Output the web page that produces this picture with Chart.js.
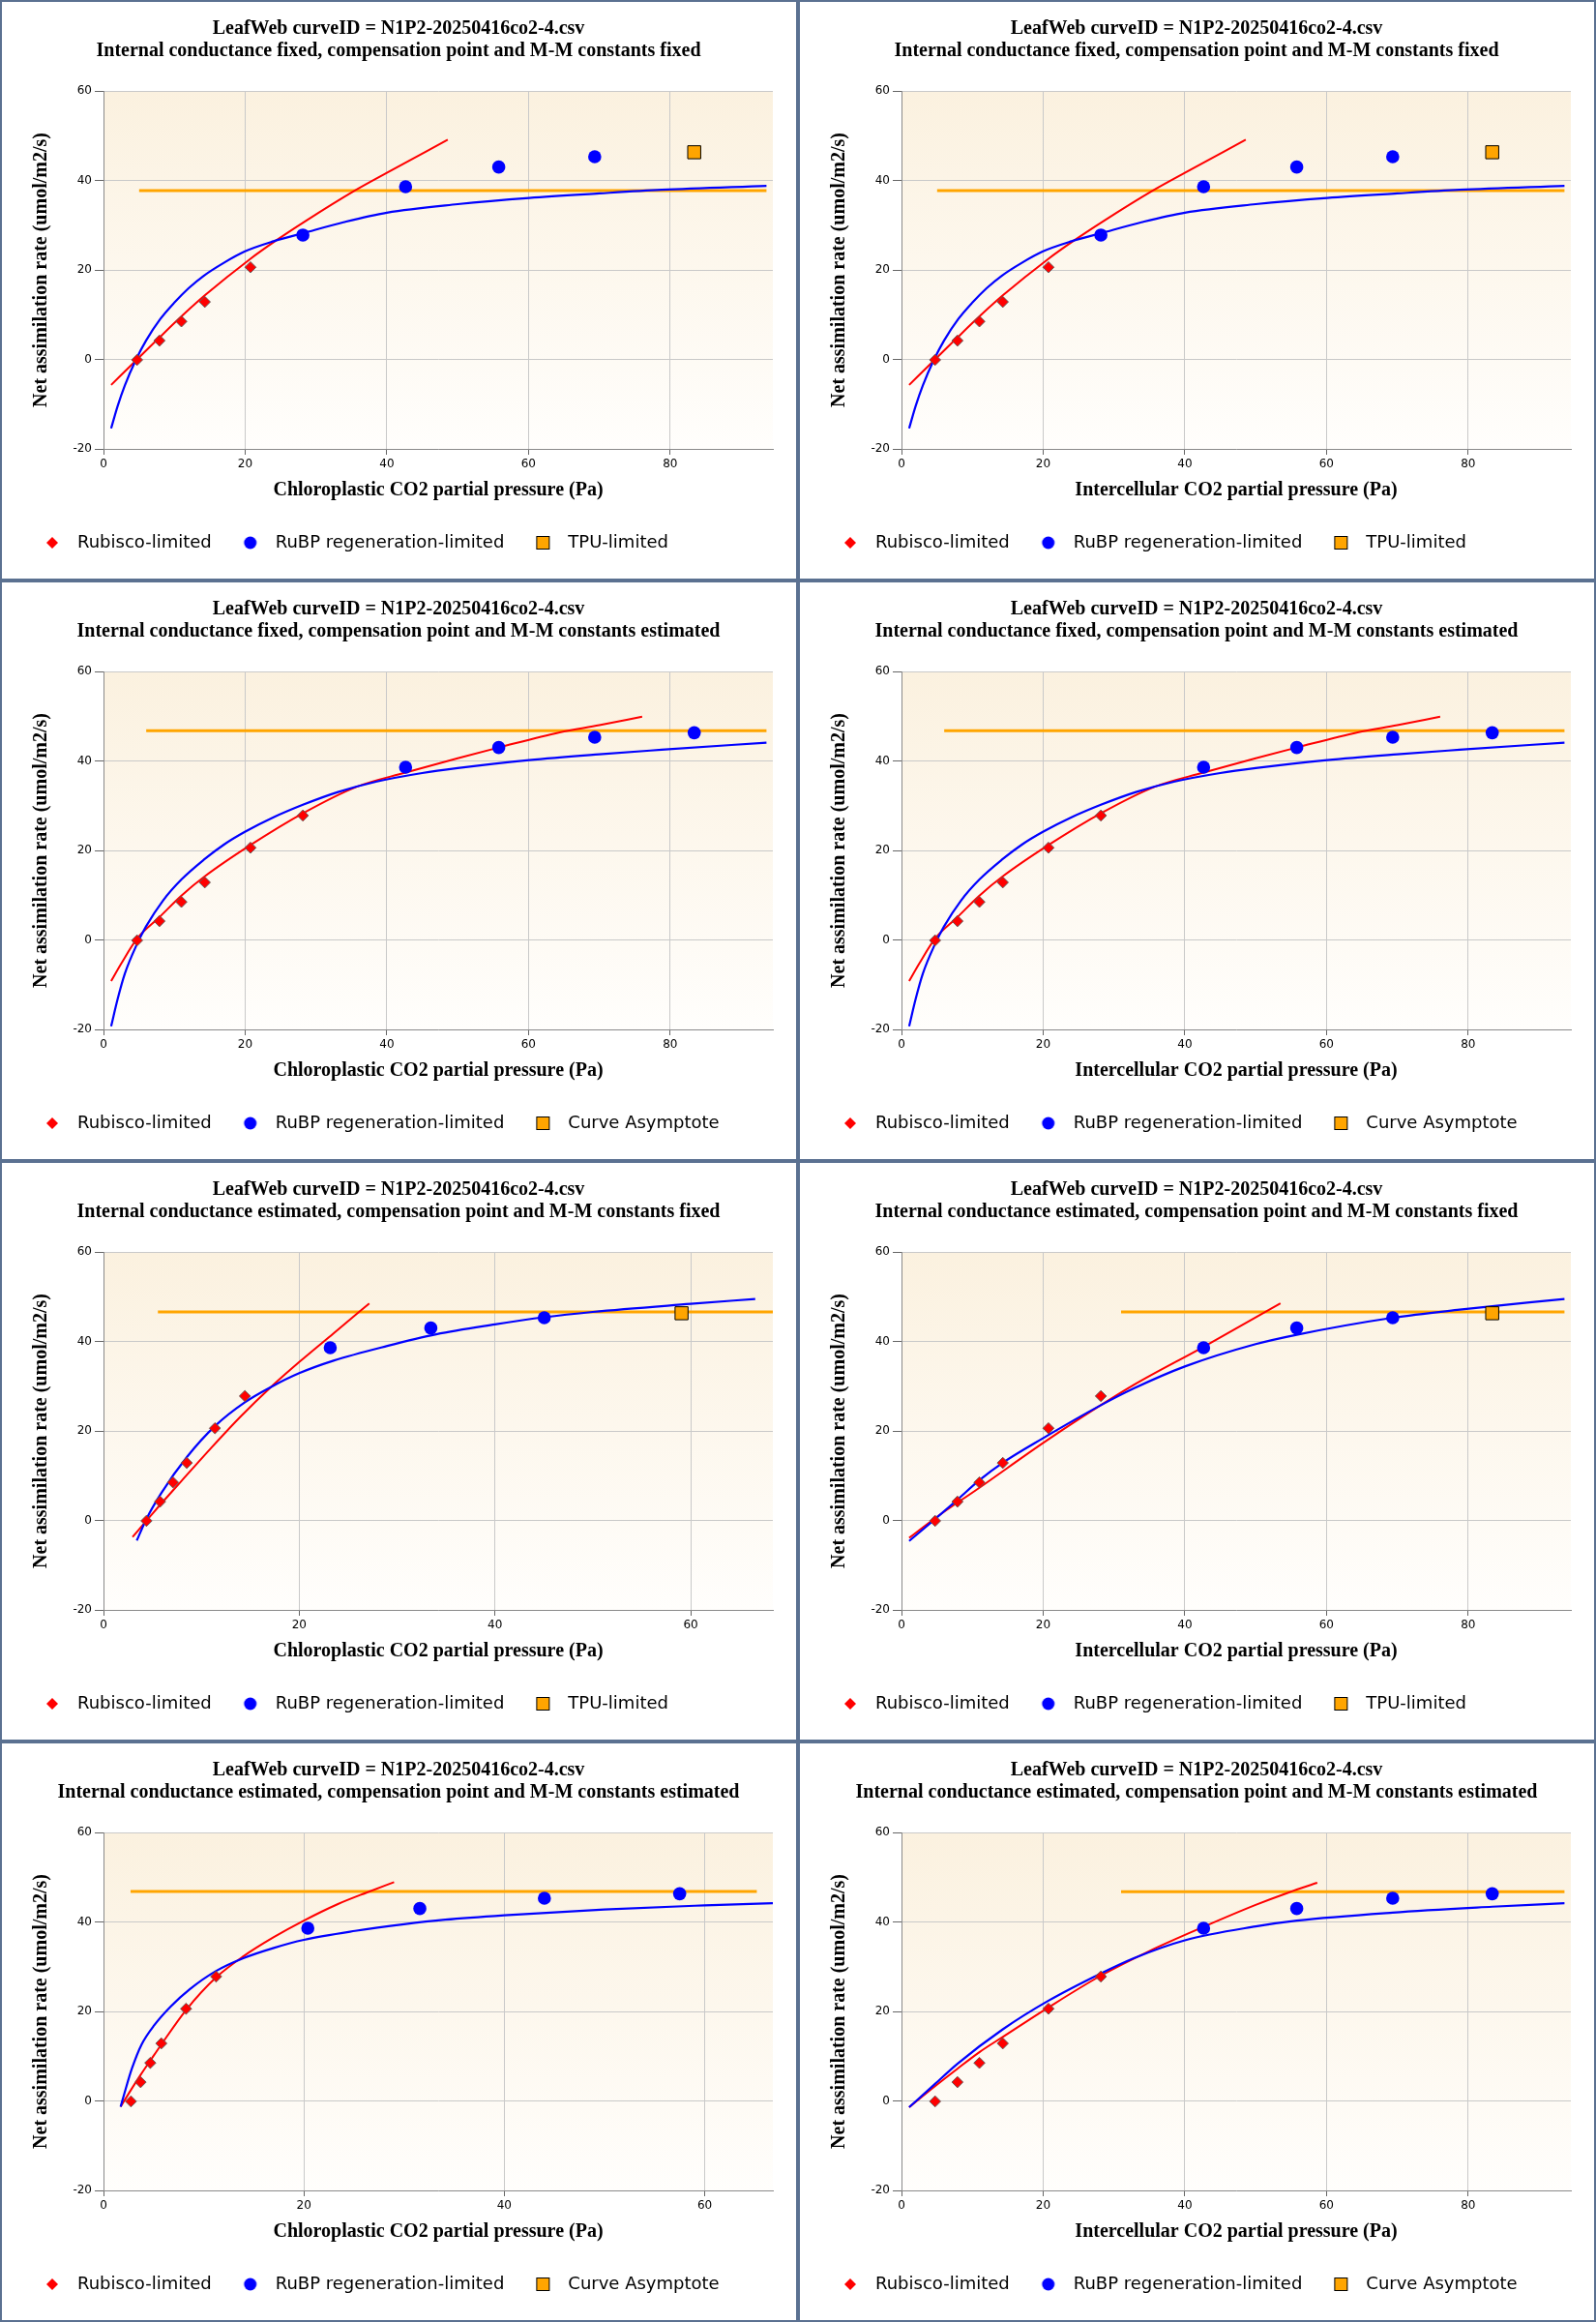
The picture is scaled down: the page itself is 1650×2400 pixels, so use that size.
<!DOCTYPE html>
<html>
<head>
<meta charset="utf-8">
<title>LeafWeb A/C fits</title>
<script src="https://cdn.jsdelivr.net/npm/chart.js@4.4.1/dist/chart.umd.min.js"></script>
<style>
  html, body { margin: 0; padding: 0; background: #fff; }
  #grid { display: grid; grid-template-columns: 825px 825px; grid-template-rows: repeat(4, 600px); width: 1650px; }
  .panel { box-sizing: border-box; border: 2px solid #5b7191; background: #fff; }
  .panel canvas { display: block; }
</style>
</head>
<body>
<div id="grid">
  <div class="panel"><canvas id="c1" width="821" height="596"></canvas></div>
  <div class="panel"><canvas id="c2" width="821" height="596"></canvas></div>
  <div class="panel"><canvas id="c3" width="821" height="596"></canvas></div>
  <div class="panel"><canvas id="c4" width="821" height="596"></canvas></div>
  <div class="panel"><canvas id="c5" width="821" height="596"></canvas></div>
  <div class="panel"><canvas id="c6" width="821" height="596"></canvas></div>
  <div class="panel"><canvas id="c7" width="821" height="596"></canvas></div>
  <div class="panel"><canvas id="c8" width="821" height="596"></canvas></div>
</div>
<script>
// measured points (same A for every panel)
const assimilation = [-0.1, 4.2, 8.5, 12.85, 20.6, 27.8, 38.6, 43.0, 45.3, 46.3];
const ciPressure = [4.74, 7.9, 11.0, 14.3, 20.75, 28.15, 42.65, 55.8, 69.35, 83.4];
const ccGmEstMmFixed = [4.39, 5.78, 7.1, 8.51, 11.39, 14.45, 23.17, 33.45, 45.04, 59.07];
const ccGmEstMmEst = [2.74, 3.7, 4.67, 5.77, 8.24, 11.24, 20.39, 31.57, 44.0, 57.5];

// limitation of each point: R = Rubisco, J = RuBP regeneration, T = TPU
const fixFixLimits = ['R', 'R', 'R', 'R', 'R', 'J', 'J', 'J', 'J', 'T'];
const fixEstLimits = ['R', 'R', 'R', 'R', 'R', 'R', 'J', 'J', 'J', 'J'];
const estFixLimits = ['R', 'R', 'R', 'R', 'R', 'R', 'J', 'J', 'J', 'T'];
const estEstLimits = ['R', 'R', 'R', 'R', 'R', 'R', 'J', 'J', 'J', 'J'];

// fitted curves, gm fixed / constants fixed
const fixFixRubiscoX = [1.08, 4.74, 7.9, 11.0, 14.3, 20.75, 24.2, 28.5, 35.5, 40.0, 48.6];
const fixFixRubiscoY = [-5.7, 0.0, 4.9, 9.6, 14.3, 22.5, 26.4, 30.9, 37.75, 41.7, 49.1];
const fixFixRubpX = [1.08, 2.0, 3.0, 4.6, 6.0, 8.0, 10.0, 12.0, 14.15, 17.0, 19.9, 24.0, 28.15, 34.0, 40.0, 50.0, 60.1, 70.0, 78.8, 93.6];
const fixFixRubpY = [-15.4, -10.4, -5.85, 0.0, 4.2, 9.0, 12.7, 15.9, 18.7, 21.6, 24.1, 26.4, 28.2, 30.7, 32.8, 34.7, 36.1, 37.1, 37.9, 38.8];
const fixFixTpuX = [5.03, 93.6];
const fixFixTpuY = [37.75, 37.75];

// gm fixed / constants estimated
const fixEstRubiscoX = [1.08, 2.5, 4.74, 7.9, 11.0, 14.3, 20.75, 28.15, 35.7, 42.65, 50.0, 55.8, 64.4, 70.0, 76.05];
const fixEstRubiscoY = [-9.2, -5.3, 0.3, 5.1, 9.9, 14.2, 21.2, 28.3, 34.2, 37.4, 40.6, 43.0, 46.4, 48.0, 49.9];
const fixEstRubpX = [1.08, 2.0, 3.0, 4.74, 6.0, 8.4, 11.0, 14.15, 17.0, 19.9, 24.0, 28.15, 33.0, 38.6, 45.0, 50.0, 60.1, 70.0, 78.8, 93.6];
const fixEstRubpY = [-19.3, -13.2, -7.6, -0.9, 3.0, 8.8, 13.5, 17.9, 21.3, 24.1, 27.4, 30.2, 33.0, 35.4, 37.3, 38.4, 40.2, 41.5, 42.5, 44.1];
const fixEstAsymX = [6.03, 93.6];
const fixEstAsymY = [46.76, 46.76];

// gm estimated / constants fixed, chloroplastic
const estFixCcRubiscoX = [2.97, 5.0, 8.0, 11.0, 14.0, 17.1, 20.0, 23.5, 27.16];
const estFixCcRubiscoY = [-3.7, 1.5, 8.9, 16.2, 23.2, 29.8, 35.4, 41.8, 48.5];
const estFixCcRubpX = [3.4, 4.4, 5.9, 8.5, 11.4, 14.45, 17.1, 20.0, 23.5, 29.0, 34.0, 40.0, 45.0, 50.0, 60.0, 66.6];
const estFixCcRubpY = [-4.5, 0.4, 6.1, 14.1, 21.1, 26.4, 29.8, 32.9, 35.7, 39.0, 41.6, 43.8, 45.4, 46.6, 48.4, 49.5];
const estFixCcTpuX = [5.56, 68.4];
const estFixCcTpuY = [46.6, 46.6];

// gm estimated / constants fixed, intercellular
const estFixCiRubiscoX = [1.08, 4.74, 11.0, 19.9, 25.6, 32.8, 42.65, 53.5];
const estFixCiRubiscoY = [-3.9, 0.5, 7.3, 17.2, 23.2, 30.3, 38.8, 48.5];
const estFixCiRubpX = [1.08, 4.74, 7.9, 11.0, 14.3, 19.9, 28.15, 32.8, 40.0, 50.0, 55.8, 69.35, 78.8, 93.6];
const estFixCiRubpY = [-4.6, 0.3, 4.65, 9.0, 12.9, 18.3, 25.75, 29.5, 34.4, 39.4, 41.5, 45.3, 47.1, 49.5];
const estFixCiTpuX = [31.0, 93.6];
const estFixCiTpuY = [46.6, 46.6];

// gm estimated / constants estimated, chloroplastic
const estEstCcRubiscoX = [1.71, 2.5, 3.7, 4.67, 5.77, 8.24, 11.24, 13.95, 17.0, 20.0, 23.4, 26.3, 29.0];
const estEstCcRubiscoY = [-1.3, 1.6, 5.8, 9.0, 12.6, 20.3, 27.6, 32.3, 36.6, 40.3, 44.0, 46.6, 48.9];
const estEstCcRubpX = [1.71, 2.19, 2.83, 3.8, 5.09, 6.7, 8.63, 11.2, 13.95, 17.0, 20.0, 25.1, 30.0, 34.1, 40.0, 50.0, 60.0, 66.8];
const estEstCcRubpY = [-1.3, 2.5, 7.2, 12.6, 17.0, 21.1, 25.0, 29.0, 31.9, 34.2, 36.0, 38.0, 39.5, 40.5, 41.5, 42.8, 43.7, 44.2];
const estEstCcAsymX = [2.7, 65.2];
const estEstCcAsymY = [46.8, 46.8];

// gm estimated / constants estimated, intercellular
const estEstCiRubiscoX = [1.08, 4.74, 7.9, 11.0, 14.3, 20.75, 28.15, 35.0, 42.65, 50.0, 54.7, 58.7];
const estEstCiRubiscoY = [-1.4, 3.3, 7.2, 10.9, 14.3, 20.9, 28.0, 33.5, 38.9, 43.8, 46.6, 48.75];
const estEstCiRubpX = [1.08, 4.74, 7.9, 14.3, 20.75, 28.15, 32.8, 40.0, 50.0, 55.8, 69.35, 83.4, 93.6];
const estEstCiRubpY = [-1.4, 3.8, 8.3, 16.0, 22.4, 28.5, 31.9, 35.9, 39.0, 40.3, 42.1, 43.4, 44.2];
const estEstCiAsymX = [31.0, 93.6];
const estEstCiAsymY = [46.76, 46.76];

const yTicks = [-20, 0, 20, 40, 60];
const xMaxWide = 94.5;
const xMaxEstFixCc = 68.4;
const xMaxEstEstCc = 66.8;

const curveTitle = 'LeafWeb curveID = N1P2-20250416co2-4.csv';
const subFixFix = 'Internal conductance fixed, compensation point and M-M constants fixed';
const subFixEst = 'Internal conductance fixed, compensation point and M-M constants estimated';
const subEstFix = 'Internal conductance estimated, compensation point and M-M constants fixed';
const subEstEst = 'Internal conductance estimated, compensation point and M-M constants estimated';
const xTitleCc = 'Chloroplastic CO2 partial pressure (Pa)';
const xTitleCi = 'Intercellular CO2 partial pressure (Pa)';

Chart.defaults.font.family = "'DejaVu Sans', sans-serif";
Chart.defaults.font.size = 12;
Chart.defaults.color = '#000';

const serifBold = { family: "'Liberation Serif', serif", size: 20, weight: 'bold' };

function pairs(xs, ys) {
  return xs.map((x, i) => ({ x: x, y: ys[i] }));
}

function pick(xs, limits, kind) {
  const out = [];
  xs.forEach((x, i) => {
    if (limits[i] === kind) out.push({ x: x, y: assimilation[i] });
  });
  return out;
}

// small images for the legend markers
function marker(kind) {
  const c = document.createElement('canvas');
  c.width = 16;
  c.height = 16;
  const g = c.getContext('2d');
  if (kind === 'diamond') {
    g.fillStyle = '#ff0000';
    g.beginPath();
    g.moveTo(8, 2); g.lineTo(14, 8); g.lineTo(8, 14); g.lineTo(2, 8);
    g.closePath();
    g.fill();
  } else if (kind === 'circle') {
    g.fillStyle = '#0000ff';
    g.beginPath();
    g.arc(8, 8, 6.5, 0, Math.PI * 2);
    g.fill();
  } else {
    g.fillStyle = '#ffa500';
    g.fillRect(1.5, 1.5, 13, 13);
    g.strokeStyle = '#000';
    g.lineWidth = 1;
    g.strokeRect(1.5, 1.5, 13, 13);
  }
  return c;
}
const markers = { diamond: marker('diamond'), circle: marker('circle'), square: marker('square') };

const plotBackground = {
  id: 'plotBackground',
  beforeDraw(chart) {
    const { ctx, chartArea: a } = chart;
    const grad = ctx.createLinearGradient(0, a.top, 0, a.bottom);
    grad.addColorStop(0, '#fbf1df');
    grad.addColorStop(1, '#fffefc');
    ctx.save();
    ctx.fillStyle = grad;
    ctx.fillRect(a.left, a.top, a.width, a.height);
    ctx.restore();
  }
};

function lineSet(data, color, width) {
  return {
    data: data,
    showLine: true,
    borderColor: color,
    backgroundColor: color,
    borderWidth: width,
    pointRadius: 0,
    cubicInterpolationMode: 'monotone',
    fill: false
  };
}

function makePanel(id, p) {
  const datasets = [
    {
      data: pick(p.xs, p.limits, 'R'),
      pointStyle: 'rectRot', pointRadius: 5.8,
      backgroundColor: '#ff0000', borderColor: 'rgba(90,90,90,0.9)', borderWidth: 1
    },
    {
      data: pick(p.xs, p.limits, 'J'),
      pointStyle: 'circle', pointRadius: 6.8,
      backgroundColor: '#0000ff', borderColor: '#0000ff', borderWidth: 0
    },
    {
      data: pick(p.xs, p.limits, 'T'),
      pointStyle: 'rect', pointRadius: 9.5,
      backgroundColor: '#ffa500', borderColor: '#000', borderWidth: 1
    },
    lineSet(pairs(p.rubpX, p.rubpY), '#0000ff', 2.2),
    lineSet(pairs(p.rubiscoX, p.rubiscoY), '#ff0000', 2),
    lineSet(pairs(p.thirdX, p.thirdY), '#ffa500', 3)
  ];

  new Chart(document.getElementById(id), {
    type: 'scatter',
    data: { datasets: datasets },
    plugins: [plotBackground],
    options: {
      responsive: false,
      animation: false,
      events: [],
      layout: { padding: { left: 12, right: 13, top: 0, bottom: 18 } },
      scales: {
        x: {
          type: 'linear',
          min: 0,
          max: p.xMax,
          ticks: { stepSize: 20, includeBounds: false, padding: 3, maxRotation: 0, color: '#000' },
          grid: { color: '#c9c9c9', tickColor: '#666', tickLength: 6 },
          border: { color: '#8a8a8a' },
          title: { display: true, text: p.xTitle, font: serifBold, color: '#000', padding: { top: 0, bottom: 10 } },
          afterFit: s => { s.height = 65; }
        },
        y: {
          type: 'linear',
          min: yTicks[0],
          max: yTicks[yTicks.length - 1],
          afterBuildTicks: s => { s.ticks = yTicks.map(v => ({ value: v })); },
          ticks: { padding: 3, color: '#000' },
          grid: { color: '#c9c9c9', tickColor: '#666', tickLength: 9 },
          border: { color: '#8a8a8a' },
          title: { display: true, text: 'Net assimilation rate (umol/m2/s)', font: serifBold, color: '#000', padding: { top: 17, bottom: 0 } },
          afterFit: s => { s.width = 93; }
        },
        spacer: {
          type: 'linear',
          position: 'right',
          display: true,
          grid: { display: false },
          ticks: { display: false },
          border: { display: false },
          afterFit: s => { s.width = 11; }
        }
      },
      plugins: {
        tooltip: { enabled: false },
        title: {
          display: true,
          text: [curveTitle, p.subtitle],
          font: { family: "'Liberation Serif', serif", size: 20, weight: 'bold', lineHeight: 1.15 },
          color: '#000',
          padding: { top: 16.5, bottom: 29.5 }
        },
        legend: {
          position: 'bottom',
          align: 'start',
          labels: {
            usePointStyle: true,
            pointStyleWidth: 34,
            padding: 23,
            color: '#000',
            font: { size: 18 },
            generateLabels: () => [
              { text: 'Rubisco-limited', pointStyle: markers.diamond, fillStyle: '#ff0000', strokeStyle: '#ff0000', lineWidth: 0, hidden: false, datasetIndex: 0 },
              { text: 'RuBP regeneration-limited', pointStyle: markers.circle, fillStyle: '#0000ff', strokeStyle: '#0000ff', lineWidth: 0, hidden: false, datasetIndex: 1 },
              { text: p.thirdLabel, pointStyle: markers.square, fillStyle: '#ffa500', strokeStyle: '#000', lineWidth: 1, hidden: false, datasetIndex: 2 }
            ]
          }
        }
      }
    }
  });
}

const fixFixCc = { xs: ciPressure, limits: fixFixLimits, rubiscoX: fixFixRubiscoX, rubiscoY: fixFixRubiscoY, rubpX: fixFixRubpX, rubpY: fixFixRubpY, thirdX: fixFixTpuX, thirdY: fixFixTpuY, thirdLabel: 'TPU-limited', xMax: xMaxWide, subtitle: subFixFix, xTitle: xTitleCc };
makePanel('c1', fixFixCc);
makePanel('c2', Object.assign({}, fixFixCc, { xTitle: xTitleCi }));

const fixEstCc = { xs: ciPressure, limits: fixEstLimits, rubiscoX: fixEstRubiscoX, rubiscoY: fixEstRubiscoY, rubpX: fixEstRubpX, rubpY: fixEstRubpY, thirdX: fixEstAsymX, thirdY: fixEstAsymY, thirdLabel: 'Curve Asymptote', xMax: xMaxWide, subtitle: subFixEst, xTitle: xTitleCc };
makePanel('c3', fixEstCc);
makePanel('c4', Object.assign({}, fixEstCc, { xTitle: xTitleCi }));

makePanel('c5', { xs: ccGmEstMmFixed, limits: estFixLimits, rubiscoX: estFixCcRubiscoX, rubiscoY: estFixCcRubiscoY, rubpX: estFixCcRubpX, rubpY: estFixCcRubpY, thirdX: estFixCcTpuX, thirdY: estFixCcTpuY, thirdLabel: 'TPU-limited', xMax: xMaxEstFixCc, subtitle: subEstFix, xTitle: xTitleCc });
makePanel('c6', { xs: ciPressure, limits: estFixLimits, rubiscoX: estFixCiRubiscoX, rubiscoY: estFixCiRubiscoY, rubpX: estFixCiRubpX, rubpY: estFixCiRubpY, thirdX: estFixCiTpuX, thirdY: estFixCiTpuY, thirdLabel: 'TPU-limited', xMax: xMaxWide, subtitle: subEstFix, xTitle: xTitleCi });

makePanel('c7', { xs: ccGmEstMmEst, limits: estEstLimits, rubiscoX: estEstCcRubiscoX, rubiscoY: estEstCcRubiscoY, rubpX: estEstCcRubpX, rubpY: estEstCcRubpY, thirdX: estEstCcAsymX, thirdY: estEstCcAsymY, thirdLabel: 'Curve Asymptote', xMax: xMaxEstEstCc, subtitle: subEstEst, xTitle: xTitleCc });
makePanel('c8', { xs: ciPressure, limits: estEstLimits, rubiscoX: estEstCiRubiscoX, rubiscoY: estEstCiRubiscoY, rubpX: estEstCiRubpX, rubpY: estEstCiRubpY, thirdX: estEstCiAsymX, thirdY: estEstCiAsymY, thirdLabel: 'Curve Asymptote', xMax: xMaxWide, subtitle: subEstEst, xTitle: xTitleCi });
</script>
</body>
</html>
